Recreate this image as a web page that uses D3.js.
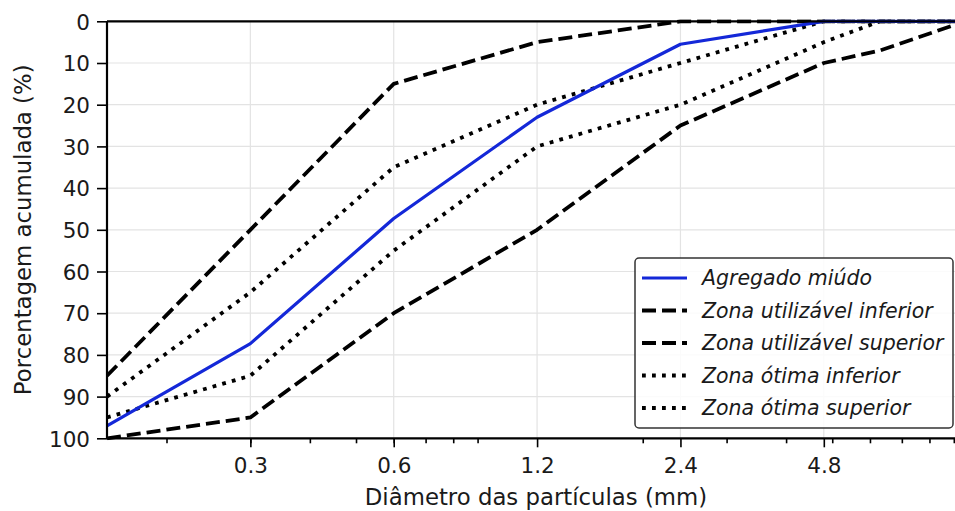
<!DOCTYPE html>
<html>
<head>
<meta charset="utf-8">
<script src="https://cdn.jsdelivr.net/npm/d3@7"></script>
<style>
  html, body { margin: 0; padding: 0; background: #fff; }
  svg { display: block; font-family: "DejaVu Sans", sans-serif; }
</style>
</head>
<body>
<svg id="chart" width="955" height="511"></svg>
<script>
// ---- Data ----
const sieves = [0.15, 0.3, 0.6, 1.2, 2.4, 4.8, 6.3, 9.5];
const agregadoMiudo = [97, 77.3, 47.3, 23, 5.5, 0, 0, 0];
const utilInferior = [85, 50, 15, 5, 0, 0, 0, 0];
const utilSuperior = [100, 95, 70, 50, 25, 10, 7, 0];
const otimaInferior = [90, 65, 35, 20, 10, 0, 0, 0];
const otimaSuperior = [95, 85, 55, 30, 20, 5, 0, 0];
const xTickValues = [0.3, 0.6, 1.2, 2.4, 4.8];
const xTickLabels = ["0.3", "0.6", "1.2", "2.4", "4.8"];
const yTickValues = [0, 10, 20, 30, 40, 50, 60, 70, 80, 90, 100];
const seriesNames = ["Agregado miúdo", "Zona utilizável inferior", "Zona utilizável superior", "Zona ótima inferior", "Zona ótima superior"];
const xTitle = "Diâmetro das partículas (mm)";
const yTitle = "Porcentagem acumulada (%)";

// ---- Layout ----
const L = 107, R = 965, T = 21.3, B = 438.3;
const svg = d3.select("#chart");
const x = d3.scaleLog().domain([0.15, 9.5]).range([L, R]);
const y = d3.scaleLinear().domain([0, 100]).range([T, B]);

// minor ticks (log minor 2..9 per decade)
const minorTicks = [];
[0.1, 1].forEach(dec => { for (let k = 2; k <= 9; k++) { const v = +(k * dec).toFixed(3); if (v >= 0.15 && v <= 9.5) minorTicks.push(v); } });

// grid
const grid = svg.append("g");
grid.selectAll("line.gx").data(xTickValues).join("line")
  .attr("x1", d => x(d)).attr("x2", d => x(d)).attr("y1", T).attr("y2", B)
  .attr("stroke", "#e3e3e3").attr("stroke-width", 1.2);
grid.selectAll("line.gy").data(yTickValues).join("line")
  .attr("x1", L).attr("x2", R).attr("y1", d => y(d)).attr("y2", d => y(d))
  .attr("stroke", "#e3e3e3").attr("stroke-width", 1.2);

// clip
svg.append("clipPath").attr("id", "clip").append("rect")
  .attr("x", L).attr("y", T - 2).attr("width", R - L).attr("height", B - T + 4);

const series = [
  { name: seriesNames[0], vals: agregadoMiudo, color: "#1428d8", width: 3.2, dash: null },
  { name: seriesNames[1], vals: utilInferior, color: "#000", width: 3.8, dash: "14,6" },
  { name: seriesNames[2], vals: utilSuperior, color: "#000", width: 3.8, dash: "14,6" },
  { name: seriesNames[3], vals: otimaInferior, color: "#000", width: 3.8, dash: "3.8,6.2" },
  { name: seriesNames[4], vals: otimaSuperior, color: "#000", width: 3.8, dash: "3.8,6.2" }
];

const line = d3.line().x(d => x(d[0])).y(d => y(d[1]));
const lines = svg.append("g").attr("clip-path", "url(#clip)");
series.slice().reverse().forEach(s => {
  lines.append("path")
    .datum(sieves.map((v, i) => [v, s.vals[i]]))
    .attr("d", line)
    .attr("fill", "none")
    .attr("stroke", s.color)
    .attr("stroke-width", s.width)
    .attr("stroke-dasharray", s.dash)
    .attr("stroke-linecap", "butt")
    .attr("stroke-linejoin", "round");
});

// axes
const xAxis = d3.axisBottom(x).tickValues(xTickValues).tickFormat((d, i) => xTickLabels[i]).tickSize(9).tickPadding(0);
const xMinor = d3.axisBottom(x).tickValues(minorTicks).tickFormat("").tickSize(5);
const yAxis = d3.axisLeft(y).tickValues(yTickValues).tickFormat(d3.format("d")).tickSize(10).tickPadding(7);

const gx = svg.append("g").attr("transform", `translate(0,${B})`).call(xAxis);
const gxm = svg.append("g").attr("transform", `translate(0,${B})`).call(xMinor);
const gy = svg.append("g").attr("transform", `translate(${L},0)`).call(yAxis);
[gx, gxm, gy].forEach(g => {
  g.select(".domain").remove();
  g.selectAll(".tick line").attr("stroke", "#000").attr("stroke-width", 1.6);
  g.selectAll("text").attr("font-family", "DejaVu Sans").attr("font-size", 21.5).attr("fill", "#1a1a1a");
});
gy.selectAll("text").attr("dy", "0.36em");
gx.selectAll("text").attr("dy", null).attr("y", 473 - B);

// spines
svg.append("line").attr("x1", L).attr("x2", R).attr("y1", B).attr("y2", B).attr("stroke", "#000").attr("stroke-width", 2.2);
svg.append("line").attr("x1", L).attr("x2", R).attr("y1", T).attr("y2", T).attr("stroke", "#000").attr("stroke-width", 2.2);
svg.append("line").attr("x1", L).attr("x2", L).attr("y1", T).attr("y2", B).attr("stroke", "#000").attr("stroke-width", 2.2);

// titles
svg.append("text").attr("x", (L + R) / 2).attr("y", 505).attr("text-anchor", "middle")
  .attr("font-size", 22.8).attr("fill", "#1a1a1a").text(xTitle);
svg.append("text").attr("transform", `translate(31,${(T + B) / 2}) rotate(-90)`).attr("text-anchor", "middle")
  .attr("font-size", 22.8).attr("fill", "#1a1a1a").text(yTitle);

// legend
const lg = svg.append("g");
lg.append("rect").attr("x", 635).attr("y", 258).attr("width", 318).attr("height", 170)
  .attr("rx", 4).attr("fill", "#fff").attr("fill-opacity", 0.85).attr("stroke", "#333").attr("stroke-width", 1.5);
series.forEach((s, i) => {
  const cy = 278 + i * 32.5;
  lg.append("line").attr("x1", 642).attr("x2", 687).attr("y1", cy).attr("y2", cy)
    .attr("stroke", s.color).attr("stroke-width", s.width).attr("stroke-dasharray", s.dash);
  lg.append("text").attr("x", 702).attr("y", cy).attr("dy", "0.36em")
    .attr("font-size", 20.5).attr("font-style", "italic").attr("fill", "#1a1a1a").text(s.name);
});
</script>
</body>
</html>
